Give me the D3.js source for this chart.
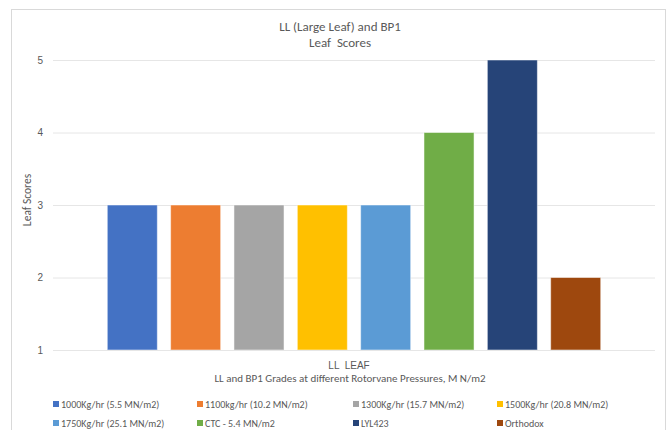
<!DOCTYPE html>
<html><head><meta charset="utf-8">
<script src="https://cdn.jsdelivr.net/npm/d3@7"></script>
<style>body{margin:0;background:#fff}svg{display:block;font-family:Carlito,Lato,"Liberation Sans",sans-serif}svg text{white-space:pre}</style>
</head><body><svg id="c" width="667" height="430"></svg>
<script>
const categories = ["LL  LEAF"];
const seriesNames = ["1000Kg/hr (5.5 MN/m2)","1100kg/hr (10.2 MN/m2)","1300Kg/hr (15.7 MN/m2)","1500Kg/hr (20.8 MN/m2)","1750Kg/hr (25.1 MN/m2)","CTC - 5.4 MN/m2","LYL423","Orthodox"];
const seriesValues = [3,3,3,3,3,4,5,2];
const seriesColors = ["#4472C4","#ED7D31","#A5A5A5","#FFC000","#5B9BD5","#70AD47","#264478","#9E480E"];
const yTicks = [1,2,3,4,5];
const titleLines = ["LL (Large Leaf) and BP1","Leaf  Scores"];
const yTitle = "Leaf Scores";
const xTitle = "LL and BP1 Grades at different Rotorvane Pressures, M N/m2";

const svg = d3.select("#c");
svg.append("rect").attr("x",11.5).attr("y",9.5).attr("width",654).attr("height",440)
  .attr("fill","#fff").attr("stroke","#d9d9d9");

const L=53,R=655,T=60,B=350;
const y = d3.scaleLinear().domain([1,5]).range([B,T]);
const x0 = d3.scaleBand().domain(categories).range([L,R]).paddingInner(0).paddingOuter(0.094);
const x1 = d3.scaleBand().domain(seriesNames).range([0,x0.bandwidth()]).paddingInner(0.21).paddingOuter(0.105);

const yAxis = d3.axisLeft(y).tickValues(yTicks).tickSize(-(R-L)).tickPadding(10).tickFormat(d3.format("d"));
const gy = svg.append("g").attr("transform",`translate(${L},0)`).call(yAxis);
gy.select(".domain").remove();
gy.selectAll(".tick line").attr("stroke","#e6e6e6").attr("stroke-width",1);
gy.selectAll(".tick text").attr("fill","#595959").style("font-size","10px");

const g = svg.append("g");
categories.forEach(cat=>{
  g.selectAll(null).data(seriesNames).enter().append("rect")
    .attr("x",d=>x0(cat)+x1(d))
    .attr("width",x1.bandwidth())
    .attr("y",(d,i)=>y(seriesValues[i]))
    .attr("height",(d,i)=>y(1)-y(seriesValues[i]))
    .attr("fill",(d,i)=>seriesColors[i])
    .attr("stroke","rgba(255,255,255,0.5)").attr("stroke-width",1);
});

const xAxis = d3.axisBottom(x0).tickSize(0).tickPadding(12);
const gx = svg.append("g").attr("transform",`translate(-5,${B})`).call(xAxis);
gx.select(".domain").remove();
svg.append("line").attr("x1",L).attr("x2",R).attr("y1",B+0.5).attr("y2",B+0.5).attr("stroke","#e6e6e6");
gx.selectAll(".tick text").attr("fill","#595959").style("font-size","10px");

svg.selectAll(".title").data(titleLines).enter().append("text")
  .attr("x",340).attr("y",(d,i)=>31+i*15.5).attr("text-anchor","middle")
  .attr("fill","#595959").style("font-size","13px").text(d=>d);

svg.append("text").attr("transform","translate(31,200) rotate(-90)").attr("text-anchor","middle")
  .attr("fill","#595959").style("font-size","11.5px").text(yTitle);

svg.append("text").attr("x",350).attr("y",382).attr("text-anchor","middle")
  .attr("fill","#595959").style("font-size","11px").text(xTitle);

const colX=[53,197,353,497];
const rowY=[404,423];
const lg = svg.append("g").selectAll("g").data(seriesNames).enter().append("g")
  .attr("transform",(d,i)=>`translate(${colX[i%4]},${rowY[Math.floor(i/4)]})`);
lg.append("rect").attr("x",0).attr("y",-3).attr("width",6).attr("height",6).attr("fill",(d,i)=>seriesColors[i]);
lg.append("text").attr("x",8).attr("y",3.5).attr("fill","#595959").style("font-size","10px").text(d=>d);
</script></body></html>
